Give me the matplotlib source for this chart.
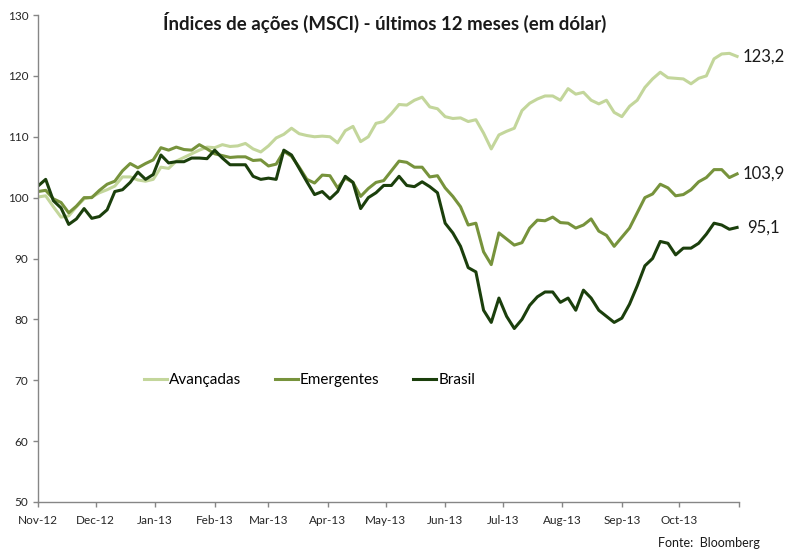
import numpy as np
import pandas as pd
import matplotlib
matplotlib.use('Agg')
import matplotlib.pyplot as plt

plt.rcParams['font.family'] = ['Lato', 'DejaVu Sans']

dates = pd.date_range('2012-11-01', periods=92, freq='4D')

avancadas = [100.1, 100.3, 98.5, 96.8, 97.0, 98.5, 99.8, 100.1, 100.8, 101.3,
             101.9, 103.4, 103.4, 102.9, 102.7, 103.0, 105.0, 104.8, 106.0, 106.6,
             107.2, 107.8, 108.3, 108.2, 108.7, 108.4, 108.5, 108.9, 108.0, 107.5,
             108.5, 109.8, 110.4, 111.4, 110.5, 110.2, 110.0, 110.1, 110.0, 109.0,
             111.0, 111.7, 109.2, 110.0, 112.2, 112.5, 113.8, 115.3, 115.2, 116.0,
             116.5, 114.9, 114.6, 113.3, 113.0, 113.1, 112.5, 112.8, 110.6, 108.0,
             110.3, 110.9, 111.4, 114.3, 115.5, 116.2, 116.7, 116.7, 116.0, 117.9,
             117.0, 117.3, 116.0, 115.4, 116.0, 114.0, 113.3, 115.0, 116.0, 118.1,
             119.5, 120.6, 119.7, 119.6, 119.5, 118.7, 119.6, 120.0, 122.8, 123.6,
             123.7, 123.2]

emergentes = [101.0, 101.2, 99.8, 99.2, 97.5, 98.6, 100.0, 100.0, 101.2, 102.2,
              102.7, 104.4, 105.6, 104.9, 105.6, 106.2, 108.2, 107.8, 108.3, 107.9,
              107.8, 108.7, 108.0, 107.2, 106.9, 106.6, 106.7, 106.7, 106.1, 106.2,
              105.2, 105.5, 107.6, 106.8, 105.0, 103.0, 102.4, 103.7, 103.6, 101.6,
              103.2, 102.5, 100.2, 101.5, 102.5, 102.8, 104.4, 106.0, 105.8, 105.0,
              105.0, 103.4, 103.6, 101.6, 100.2, 98.5, 95.5, 95.8, 91.1, 89.0,
              94.2, 93.2, 92.2, 92.6, 95.0, 96.3, 96.2, 96.8, 95.9, 95.8,
              95.0, 95.5, 96.5, 94.5, 93.8, 92.0, 93.5, 95.0, 97.5, 100.0,
              100.6, 102.2, 101.6, 100.3, 100.5, 101.3, 102.6, 103.3, 104.6, 104.6,
              103.3, 103.9]

brasil = [101.9, 103.0, 99.5, 98.3, 95.6, 96.5, 98.2, 96.6, 96.9, 98.0,
          101.0, 101.3, 102.5, 104.2, 103.0, 103.8, 107.0, 105.7, 105.9, 105.9,
          106.5, 106.5, 106.4, 107.8, 106.5, 105.4, 105.4, 105.4, 103.5, 103.0,
          103.2, 103.0, 107.8, 107.0, 104.8, 102.6, 100.5, 101.0, 99.8, 101.0,
          103.5, 102.5, 98.2, 100.0, 100.8, 102.0, 102.0, 103.5, 102.0, 101.8,
          102.6, 101.8, 100.8, 95.8, 94.2, 92.0, 88.5, 87.8, 81.5, 79.5,
          83.5, 80.5, 78.5, 80.0, 82.3, 83.7, 84.5, 84.5, 82.8, 83.5,
          81.5, 84.8, 83.5, 81.5, 80.5, 79.5, 80.2, 82.5, 85.5, 88.8,
          90.0, 92.8, 92.5, 90.6, 91.7, 91.7, 92.5, 94.0, 95.8, 95.5,
          94.8, 95.1]

series = ['Avançadas', 'Emergentes', 'Brasil']
colors = ['#C3D69B', '#77933C', '#1B3F0C']
end_labels = ['123,2', '103,9', '95,1']

fig = plt.figure(figsize=(7.9, 5.49), dpi=100)
ax = fig.add_axes([38 / 790, 1 - 502 / 549, 701 / 790, 487 / 549])

for name, vals, c, lab in zip(series, [avancadas, emergentes, brasil], colors, end_labels):
    ax.plot(dates, vals, color=c, linewidth=2.2, label=name, solid_joinstyle='round')
    ax.annotate(lab, xy=(dates[-1], vals[-1]), xytext=(19, 0), textcoords='offset points',
                ha='center', va='center', fontsize=12, color='#1a1a1a')

ax.set_ylim(50, 130)
ax.set_yticks(np.arange(50, 131, 10))
ax.set_xlim(pd.Timestamp('2012-11-01'), pd.Timestamp('2013-11-01'))
months = pd.date_range('2012-11-01', '2013-11-01', freq='MS')
ax.set_xticks(months)
ax.set_xticklabels([d.strftime('%b-%y') for d in months[:-1]] + [''])

for s in ['top', 'right']:
    ax.spines[s].set_visible(False)
for s in ['left', 'bottom']:
    ax.spines[s].set_color('#868686')
    ax.spines[s].set_linewidth(1.0)
ax.tick_params(axis='both', colors='#868686', length=3.5, width=1.0, labelsize=8.5,
               labelcolor='#262626')
ax.tick_params(axis='x', pad=6)

ax.legend(loc='center left', bbox_to_anchor=(92 / 701, (70 - 50) / 80), ncol=3,
          frameon=False, fontsize=11, handlelength=1.5, handletextpad=0.15,
          columnspacing=2.2)

fig.text(385 / 790, 1 - 22 / 549, 'Índices de ações (MSCI) - últimos 12 meses (em dólar)',
         ha='center', va='center', fontsize=13.4, fontweight='bold', color='#1a1a1a')
fig.text(658 / 790, 1 - 543 / 549, 'Fonte:  Bloomberg', ha='left', va='center',
         fontsize=9, color='#1a1a1a')

fig.savefig('out.png', dpi=100)
